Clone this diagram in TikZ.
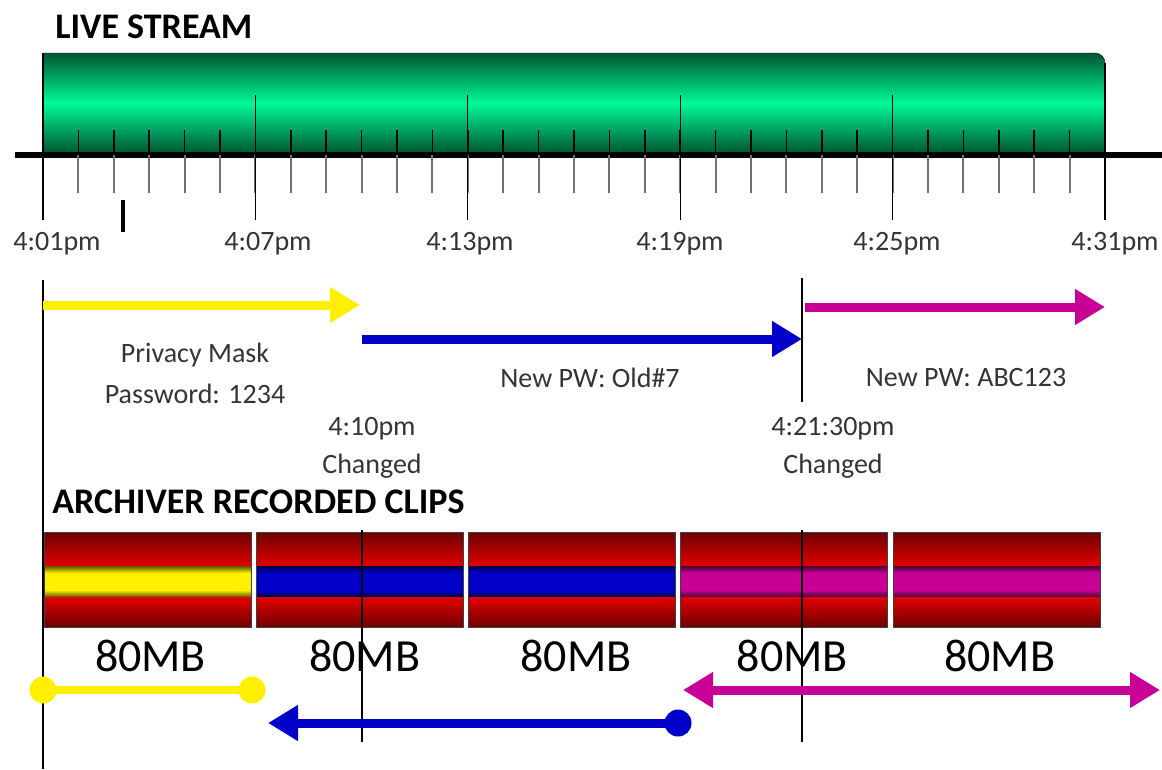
\documentclass[tikz,border=0pt]{standalone}
\usepackage{fontspec}
\setmainfont{Carlito}
\usetikzlibrary{arrows.meta}

\definecolor{gdark}{RGB}{0,85,50}
\definecolor{glight}{RGB}{0,250,150}
\definecolor{rdark}{RGB}{110,0,0}
\definecolor{rlight}{RGB}{228,0,0}
\definecolor{pwyellow}{RGB}{255,240,0}
\definecolor{pwblue}{RGB}{0,0,200}
\definecolor{pwmagenta}{RGB}{200,0,150}
\definecolor{txt}{RGB}{55,50,55}

\tikzset{
  timelbl/.style={text=txt, font=\fontsize{28}{30}\selectfont, inner sep=0pt},
  headlbl/.style={font=\bfseries\fontsize{36}{38}\selectfont, anchor=west, inner sep=0pt},
  mblbl/.style={font=\fontsize{46}{48}\selectfont, inner sep=0pt},
  pwarrow/.style={line width=9pt, ->},
  dot/.style={circle, fill, inner sep=0pt, minimum size=27pt}
}

\begin{document}
\begin{tikzpicture}[x=1pt, y=-1pt, thick, >={Triangle[length=30pt,width=34pt]}]
  \useasboundingbox (0,0) rectangle (1162,769);

  % 1. Live stream bar and time axis
  \node[headlbl] (live) at (55,27) {LIVE STREAM};
  \shade[top color=gdark, bottom color=gdark, middle color=glight, draw=black, thin]
    (43,153) -- (43,53) -- (1095,53) to[out=0,in=90] (1105,63) -- (1105,153) -- cycle;
  \draw[line width=6pt] (15,155) -- (1162,155);

  % 2. Minor tickmarks, one per minute (30 minutes over 1062 units)
  \foreach \m in {1,...,29} {
    \draw[black, line width=1.5pt] ({43+35.4*\m},130) -- ({43+35.4*\m},155);
    \draw[black!55, line width=2pt] ({43+35.4*\m},155) -- ({43+35.4*\m},193);
  }

  % 3. Major tickmarks every 6 minutes, with their labels
  \foreach \i/\lx/\t in {0/57/4:01pm, 1/268/4:07pm, 2/470/4:13pm, 3/680/4:19pm, 4/897/4:25pm, 5/1115/4:31pm} {
    \draw[line width=1.2pt] ({43+212.4*\i},95) -- ({43+212.4*\i},220);
    \node[timelbl] (t\i) at (\lx,244) {\t};
  }
  \draw[line width=1.2pt] (43,53) -- (43,153);
  \draw[line width=1.2pt] (1105,63) -- (1105,153);
  \draw[line width=3.5pt] (123,200) -- (123,232);

  % 4. Password periods on the live stream
  \coordinate (ys) at (43,305);   \coordinate (ye) at (360,305);
  \coordinate (bs) at (362,339);  \coordinate (be) at (802,339);
  \coordinate (ms) at (805,307);  \coordinate (me) at (1105,307);
  \draw[line width=1.2pt] (43,280) -- (43,769);
  \draw[line width=1.2pt] (802,278) -- (802,402);
  \draw[pwarrow, pwyellow] (ys) -- (ye);
  \draw[pwarrow, pwblue] (bs) -- (be);
  \draw[pwarrow, pwmagenta] (ms) -- (me);

  \node[timelbl] (mask) at (195,355) {Privacy Mask};
  \node[timelbl] (pw1) at (195,394) {Password: 1234};
  \node[timelbl] (pw2) at (590,378) {New PW: Old\#7};
  \node[timelbl] (pw3) at (966,378) {New PW: ABC123};
  \node[timelbl] (c1t) at (372,429) {4:10pm};
  \node[timelbl] (c1) at (372,466) {Changed};
  \node[timelbl] (c2t) at (833,429) {4:21:30pm};
  \node[timelbl] (c2) at (833,466) {Changed};

  % 5. Archiver clips, 80MB each
  \node[headlbl] (arch) at (52,502) {ARCHIVER RECORDED CLIPS};
  \foreach \i/\c/\dx in {0/pwyellow/3, 1/pwblue/5, 2/pwblue/4, 3/pwmagenta/8, 4/pwmagenta/3} {
    \pgfmathsetmacro\xa{44+212.3*\i}
    \pgfmathsetmacro\xb{\xa+207}
    \shade[top color=rdark, bottom color=rlight] (\xa,532) rectangle (\xb,566);
    \fill[\c] (\xa,566) rectangle (\xb,597);
    \shade[top color=\c!35!black, bottom color=\c] (\xa,566) rectangle (\xb,573);
    \shade[top color=\c, bottom color=\c!35!black] (\xa,590) rectangle (\xb,597);
    \shade[top color=rlight, bottom color=rdark] (\xa,597) rectangle (\xb,627);
    \draw[black!75, line width=1pt] (\xa,532) rectangle (\xb,627);
    \node[mblbl] (mb\i) at ({\xa+103.5+\dx},656) {80MB};
  }
  \draw[line width=1.2pt] (362,530) -- (362,742);
  \draw[line width=1.2pt] (802,530) -- (802,742);

  % 6. Clips that each password opens
  \coordinate (ya) at (43,690);   \coordinate (yb) at (252,690);
  \coordinate (bd) at (678,723);  \coordinate (ba) at (268,723);
  \coordinate (ma) at (683,690);  \coordinate (mb) at (1160,690);
  \draw[pwyellow, line width=8pt] (ya) -- (yb);
  \node[dot, pwyellow] (yd1) at (ya) {};
  \node[dot, pwyellow] (yd2) at (yb) {};
  \draw[pwarrow, pwblue] (bd) -- (ba);
  \node[dot, pwblue] (bdot) at (bd) {};
  \draw[pwarrow, pwmagenta, <->] (ma) -- (mb);
\end{tikzpicture}
\end{document}
